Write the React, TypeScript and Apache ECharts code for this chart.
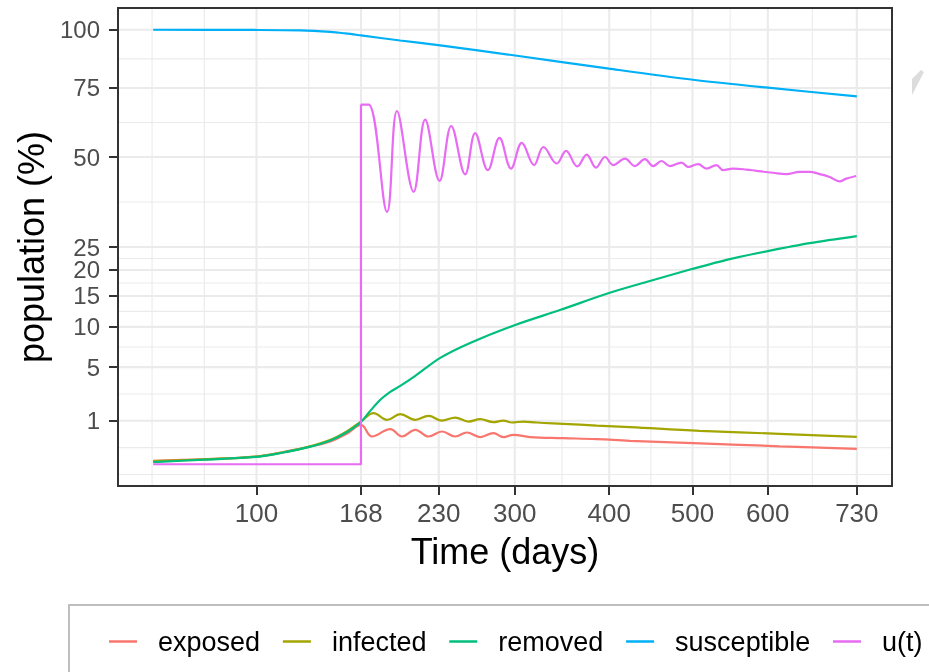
import React, { useEffect, useRef } from "react";
import * as echarts from "echarts";

// ---- tick labels (original units) ----
const xTicks = [100, 168, 230, 300, 400, 500, 600, 730];
const yTicks = [1, 5, 10, 15, 20, 25, 50, 75, 100];

// ---- legend / series ----
const seriesNames = ["exposed", "infected", "removed", "susceptible", "u(t)"];
const seriesColors = ["#F8766D", "#A3A500", "#00BF7D", "#00B0F6", "#E76BF3"];

// ---- early phase (days) shared by exposed / infected / removed ----
const earlyDays = [50, 72.7, 100, 115, 131.6, 146.3, 158, 168];
const exposedEarly = [0.0065, 0.014, 0.032, 0.075, 0.16, 0.274, 0.5, 0.824];
const infectedEarly = [0.005, 0.013, 0.031, 0.073, 0.16, 0.317, 0.58, 0.967];
const removedEarly = [0.0026, 0.011, 0.029, 0.07, 0.155, 0.3, 0.55, 0.954];

// ---- later phase: [day, percent] ----
const exposedLate = [
  [176.2, 0.408], [190.2, 0.654], [199.5, 0.408], [210.3, 0.628], [221.3, 0.408],
  [232.8, 0.568], [244.4, 0.408], [254.8, 0.534], [267, 0.391], [279.5, 0.514],
  [289, 0.391], [298.7, 0.459], [315.3, 0.391], [349.6, 0.362], [385.9, 0.335],
  [423.8, 0.292], [509.3, 0.233], [616.6, 0.171], [730, 0.127],
];
const infectedLate = [
  [177.4, 1.384], [187.7, 1.045], [198.1, 1.33], [210.3, 1.045], [221.3, 1.242],
  [232.8, 1.013], [244.4, 1.156], [256.3, 0.967], [267, 1.079], [279.5, 0.94],
  [289, 1.013], [297.1, 0.923], [308.6, 0.967], [322, 0.923], [349.6, 0.866],
  [385.9, 0.795], [423.8, 0.731], [509.3, 0.593], [616.6, 0.491], [730, 0.4],
];
const removedLate = [
  [174.9, 1.51], [182.5, 2.2], [190.2, 2.78], [198.1, 3.25], [210.3, 4.14],
  [231.3, 5.99], [257.8, 7.79], [300.4, 10.27], [346.1, 12.6], [399.7, 15.53],
  [447.4, 17.78], [499.1, 20.18], [548.3, 22.3], [599.9, 24.07], [659.5, 25.9],
  [730, 27.57],
];
const susceptibleDays = [50, 96.6, 126.5, 146.3, 156.7, 168, 198.1, 231.3, 300.4, 399.7, 500.7, 600, 730];
const susceptibleValues = [100, 99.9, 99.7, 99.0, 98.3, 97.4, 95.1, 92.9, 88.5, 82.9, 78.3, 75.1, 71.7];

const controlOff = [[50, 0], [168, 0], [168, 68.5]];
const controlOn = [
  [168, 68.5], [173.7, 68.5], [187.7, 33.7], [195.5, 66.1], [208.9, 39.3], [218.5, 62.9],
  [230.7, 42.5], [240.9, 60.6], [253.3, 44.5], [262.4, 58.1], [274.2, 45.8], [285.2, 56.4],
  [296.4, 46.3], [307, 54.7], [319.3, 47.4], [328.8, 53.3], [342.7, 47.9], [352.5, 52.0],
  [364.6, 47.0], [374.8, 50.8], [385.1, 46.6], [395.2, 50.0], [404.5, 47.4], [418, 49.5],
  [429.6, 47.1], [441.5, 49.3], [451.4, 47.1], [461.5, 48.7], [471.7, 47.1], [486.2, 48.2],
  [494.5, 46.8], [507.1, 47.7], [517.9, 46.3], [530.8, 47.4], [539.5, 45.8], [552.7, 46.3],
  [570.7, 46.0], [584.3, 45.6], [607.2, 45.0], [626.1, 44.6], [645, 45.3], [659.5, 45.3],
  [674.1, 44.6], [689, 43.7], [703.8, 42.4], [713.9, 43.2], [729.1, 44.0],
];

// sqrt transform of both axes
const tr = (p: number[]) => [Math.sqrt(p[0]), Math.sqrt(p[1])];
const zip = (a: number[], b: number[]) => a.map((d, i) => [d, b[i]]);

function expand(lo: number, hi: number): [number, number] {
  const r = hi - lo;
  return [lo - 0.05 * r, hi + 0.05 * r];
}
function minorBreaks(b: number[], lim: [number, number]) {
  const bd = b[1] - b[0];
  let bb = [...b];
  if (lim[0] < bb[0]) bb = [bb[0] - bd, ...bb];
  if (lim[1] > bb[bb.length - 1]) bb = [...bb, bb[bb.length - 1] + bd];
  const out: number[] = [];
  for (let i = 0; i < bb.length - 1; i++) out.push(bb[i], (bb[i] + bb[i + 1]) / 2);
  out.push(bb[bb.length - 1]);
  return out.filter((v) => v > lim[0] && v < lim[1]);
}

export default function App() {
  const ref = useRef<HTMLDivElement>(null);
  useEffect(() => {
    const chart = echarts.init(ref.current!, null, { renderer: "svg" });
    const allDays = [...earlyDays, ...susceptibleDays, ...controlOn.map((p) => p[0])];
    const [xMin, xMax] = expand(Math.sqrt(Math.min(...allDays)), Math.sqrt(Math.max(...allDays)));
    const [yMin, yMax] = expand(0, Math.sqrt(Math.max(...susceptibleValues)));
    const xMajor = xTicks.map(Math.sqrt);
    const yMajor = yTicks.map(Math.sqrt);
    const xMinor = minorBreaks(xMajor, [xMin, xMax]);
    const yMinor = minorBreaks(yMajor, [yMin, yMax]);
    const gridData = [
      ...xMinor.map((v) => [v, 0, 0]),
      ...yMinor.map((v) => [v, 1, 0]),
      ...xMajor.map((v) => [v, 0, 1]),
      ...yMajor.map((v) => [v, 1, 1]),
    ];
    const lineSeries = (name: string, idx: number, pts: number[][], smooth: number | boolean) => ({
      type: "line",
      name,
      data: pts.map(tr),
      showSymbol: false,
      symbol: "none",
      smooth,
      lineStyle: { color: seriesColors[idx], width: 2.2 },
      itemStyle: { color: seriesColors[idx] },
      z: 3,
    });
    const font = "'Liberation Sans', Arial, Helvetica, sans-serif";
    chart.setOption({
      animation: false,
      textStyle: { fontFamily: font },
      grid: {
        left: 118, right: 37, top: 8, bottom: 186,
        show: true, borderColor: "#333333", borderWidth: 2, backgroundColor: "#ffffff",
      },
      xAxis: {
        type: "value", min: xMin, max: xMax,
        axisLine: { show: false, onZero: false },
        axisTick: { show: true, length: 9, lineStyle: { color: "#333333", width: 2 }, customValues: xMajor },
        axisLabel: {
          customValues: xMajor,
          formatter: (v: number) => String(Math.round(v * v)),
          fontSize: 26, color: "#4D4D4D", margin: 14, fontFamily: font,
        },
        splitLine: { show: false },
        name: "Time (days)", nameLocation: "middle", nameGap: 47,
        nameTextStyle: { fontSize: 36, color: "#000000", fontFamily: font },
      },
      yAxis: {
        type: "value", min: yMin, max: yMax,
        axisLine: { show: false, onZero: false },
        axisTick: { show: true, length: 9, lineStyle: { color: "#333333", width: 2 }, customValues: yMajor },
        axisLabel: {
          customValues: yMajor,
          formatter: (v: number) => String(Math.round(v * v)),
          fontSize: 24, lineHeight: 14, color: "#4D4D4D", margin: 18, fontFamily: font,
        },
        splitLine: { show: false },
        name: "population (%)", nameLocation: "middle", nameGap: 63, nameRotate: 90,
        nameTextStyle: { fontSize: 36, color: "#000000", fontFamily: font },
      },
      legend: {
        data: seriesNames, left: 109, top: 628, padding: 0,
        icon: "rect", itemWidth: 28, itemHeight: 2.5, itemGap: 22.8, selectedMode: false,
        textStyle: { fontSize: 27, color: "#000000", padding: [0, 0, 0, 16], fontFamily: font },
      },
      graphic: [
        { type: "rect", shape: { x: 69, y: 605, width: 1000, height: 200 }, style: { fill: "none", stroke: "#BEBEBE", lineWidth: 2 }, silent: true },
        { type: "polygon", shape: { points: [[912, 79], [921, 70], [924, 72], [912, 95]] }, style: { fill: "#DCDCDC" }, silent: true },
      ],
      series: [
        {
          type: "custom", name: "grid", silent: true, z: 1, clip: false,
          data: gridData,
          renderItem: (params: any, api: any) => {
            const cs = params.coordSys;
            const val = api.value(0) as number;
            const kind = api.value(1);
            const w = api.value(2) ? 2.1 : 1.1;
            if (kind === 0) {
              const x = api.coord([val, yMin])[0];
              return { type: "line", shape: { x1: x, y1: cs.y + 1, x2: x, y2: cs.y + cs.height - 1 }, style: { stroke: "#EBEBEB", lineWidth: w } };
            }
            const y = api.coord([xMin, val])[1];
            return { type: "line", shape: { x1: cs.x + 1, y1: y, x2: cs.x + cs.width - 1, y2: y }, style: { stroke: "#EBEBEB", lineWidth: w } };
          },
        },
        lineSeries("exposed", 0, [...zip(earlyDays, exposedEarly), ...exposedLate], 0.4),
        lineSeries("infected", 1, [...zip(earlyDays, infectedEarly), ...infectedLate], 0.4),
        lineSeries("removed", 2, [...zip(earlyDays, removedEarly), ...removedLate], 0.3),
        lineSeries("susceptible", 3, zip(susceptibleDays, susceptibleValues), 0.3),
        lineSeries("u(t)", 4, controlOff, false),
        lineSeries("u(t)", 4, controlOn, 0.38),
      ],
    });
    return () => chart.dispose();
  }, []);
  return <div ref={ref} style={{ position: "fixed", left: 0, top: 0, width: 929, height: 672 }} />;
}
